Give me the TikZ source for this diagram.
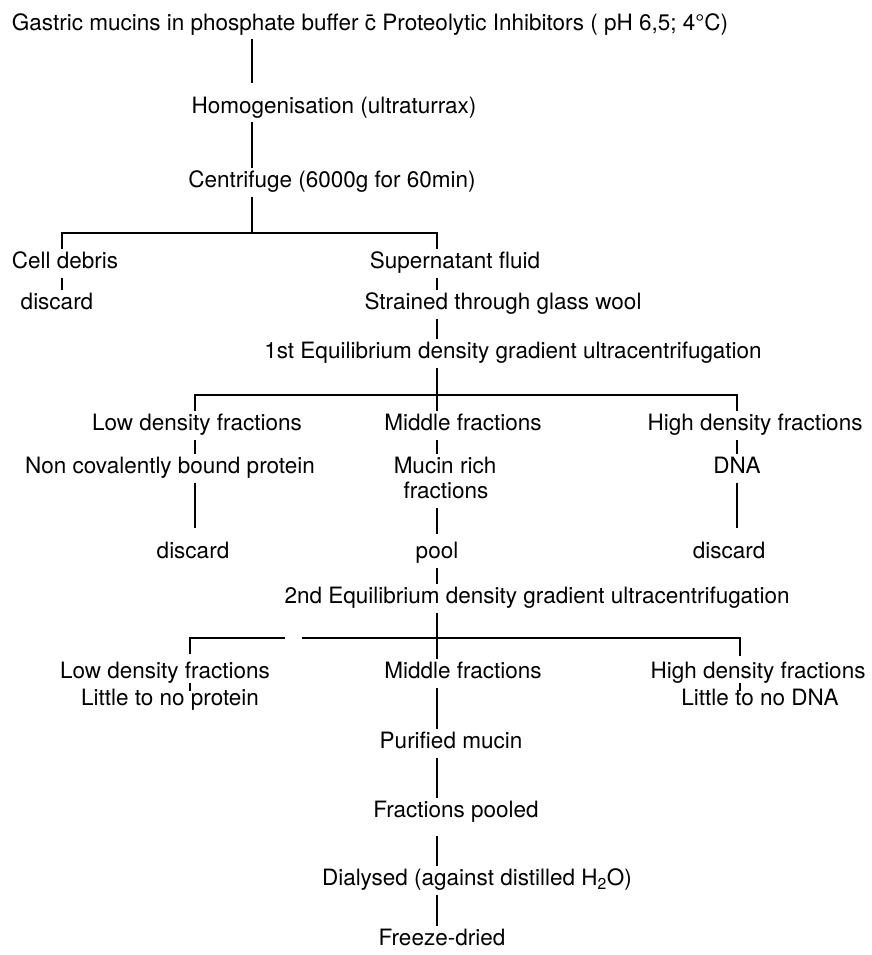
\documentclass[tikz,border=0pt]{standalone}
\usepackage{fontspec}
\setmainfont{TeX Gyre Heros}
\usepackage{tikz}
\usetikzlibrary{positioning, calc}
\tikzset{
  % Flow sheet styles
  steptext/.style={inner sep=0pt, outer sep=5pt, text height=15pt, text depth=4pt, font=\fontsize{22.5}{26}\selectfont},
  tight/.style={outer sep=0pt},
  link/.style={line width=1.9pt, line join=miter, line cap=butt},
}

\begin{document}
\begin{tikzpicture}[x=1pt, y=-1pt]
    \useasboundingbox (0,0) rectangle (871,955);

    % Columns of the connectors
    \coordinate (stemA) at (252,0);
    \coordinate (stemB) at (437,0);
    \coordinate (stemL) at (62,0);
    \coordinate (stemLo) at (195,0);
    \coordinate (stemHi) at (737,0);
    \coordinate (stemLoB) at (190,0);
    \coordinate (stemHiB) at (740,0);

    % Extraction
    \node[steptext] (src) at (370,25) {Gastric mucins in phosphate buffer \={c} Proteolytic Inhibitors ( pH 6,5; 4°C)};
    \node[steptext] (homog) at (334,108) {Homogenisation (ultraturrax)};
    \node[steptext] (centr) at (332,182) {Centrifuge (6000g for 60min)};

    % First split
    \node[steptext] (cell) at (65,263) {Cell debris};
    \node[steptext] (super) at (455,263) {Supernatant fluid};
    \node[steptext] (disc1) at (57,304) {discard};
    \node[steptext] (strain) at (503,304) {Strained through glass wool};
    \node[steptext] (ultra1) at (513,353) {1st Equilibrium density gradient ultracentrifugation};

    % First gradient
    \node[steptext] (low1) at (197,425) {Low density fractions};
    \node[steptext] (mid1) at (463,425) {Middle fractions};
    \node[steptext] (high1) at (755,425) {High density fractions};
    \node[steptext] (prot1) at (170,468) {Non covalently bound protein};
    \node[steptext] (mucin) at (445,468) {Mucin rich};
    \node[steptext] (mucfr) at (446,493) {fractions};
    \node[steptext] (dna) at (737,468) {DNA};
    \node[steptext] (disc2) at (193,553) {discard};
    \node[steptext] (pool) at (437,553) {pool};
    \node[steptext] (disc3) at (729,553) {discard};
    \node[steptext] (ultra2) at (537,598) {2nd Equilibrium density gradient ultracentrifugation};

    % Second gradient
    \node[steptext, tight] (low2) at (165,673) {Low density fractions};
    \node[steptext] (mid2) at (463,673) {Middle fractions};
    \node[steptext, tight] (high2) at (758,673) {High density fractions};
    \node[steptext, tight] (prot2) at (170,700) {Little to no protein};
    \node[steptext, tight] (dna2) at (760,700) {Little to no DNA};

    % Final steps
    \node[steptext] (pure) at (451,743) {Purified mucin};
    \node[steptext] (pooled) at (456,812) {Fractions pooled};
    \node[steptext] (dial) at (477,880) {Dialysed (against distilled H\textsubscript{2}O)};
    \node[steptext] (dried) at (442,940) {Freeze-dried};

    % Bars
    \coordinate (bar1) at (252,233);
    \coordinate (bar2) at (437,395);
    \coordinate (bar3) at (437,638);
    \coordinate (gapL) at (285,638);
    \coordinate (gapR) at (302,638);

    % Connectors
    \draw[link, shorten >=10pt] (src.south -| stemA) -- (homog.north -| stemA);
    \draw[link] (homog.south -| stemA) -- (centr.north -| stemA);
    \draw[link] (centr.south -| stemA) -- (bar1);
    \draw[link] (cell.north -| stemL) |- (bar1) -| (super.north -| stemB);
    \draw[link] (cell.south -| stemL) -- (disc1.north -| stemL);
    \draw[link] (super.south -| stemB) -- (strain.north -| stemB);
    \draw[link] (strain.south -| stemB) -- (ultra1.north -| stemB);
    \draw[link] (ultra1.south -| stemB) -- (bar2);
    \draw[link] (low1.north -| stemLo) |- (bar2) -| (high1.north -| stemHi);
    \draw[link] (bar2) -- (mid1.north -| stemB);
    \draw[link] (low1.south -| stemLo) -- (prot1.north -| stemLo);
    \draw[link] (mid1.south -| stemB) -- (mucin.north -| stemB);
    \draw[link] (high1.south -| stemHi) -- (dna.north -| stemHi);
    \draw[link, shorten >=11pt] (prot1.south -| stemLo) -- (disc2.north -| stemLo);
    \draw[link, shorten >=5pt] (mucfr.south -| stemB) -- (pool.north -| stemB);
    \draw[link, shorten >=11pt] (dna.south -| stemHi) -- (disc3.north -| stemHi);
    \draw[link] (pool.south -| stemB) -- (ultra2.north -| stemB);
    \draw[link] (ultra2.south -| stemB) -- (bar3);
    \draw[link, shorten <=10pt] (low2.north -| stemLoB) |- (gapL);
    \draw[link, shorten >=8pt] (gapR) -| (high2.north -| stemHiB);
    \draw[link] (bar3) -- (mid2.north -| stemB);
    \draw[link] (low2.south -| stemLoB) -- (prot2.north -| stemLoB);
    \draw[link] (high2.south -| stemHiB) -- (dna2.north -| stemHiB);
    \draw[link] (mid2.south -| stemB) -- (pure.north -| stemB);
    \draw[link] (pure.south -| stemB) -- (pooled.north -| stemB);
    \draw[link, shorten <=9pt] (pooled.south -| stemB) -- (dial.north -| stemB);
    \draw[link] (dial.south -| stemB) -- (dried.north -| stemB);
\end{tikzpicture}
\end{document}
